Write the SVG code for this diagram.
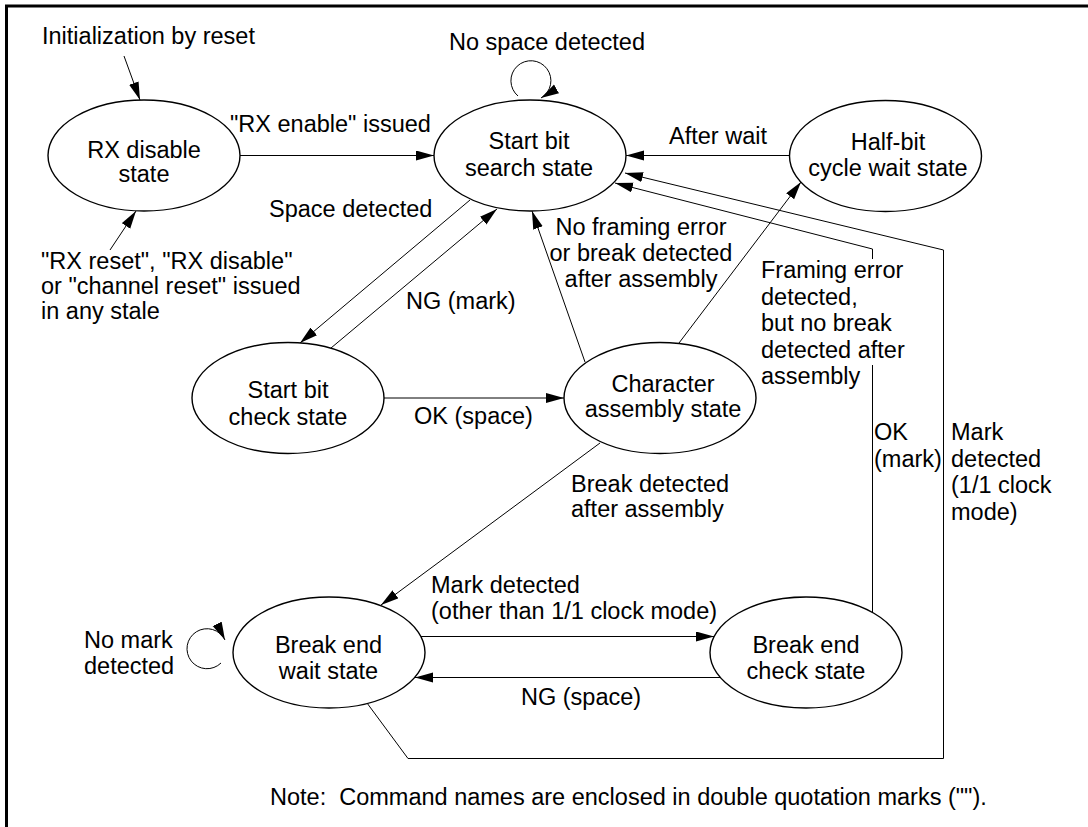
<svg xmlns="http://www.w3.org/2000/svg" width="1088" height="827" viewBox="0 0 1088 827">
<style>
text{font-family:"Liberation Sans",Arial,sans-serif;font-size:23.5px;fill:#000;white-space:pre}
.st{fill:#fff;stroke:#000;stroke-width:1.4}
.c{fill:none;stroke:#000;stroke-width:1}
.m{text-anchor:middle}
</style>
<defs>
<marker id="ah" markerUnits="userSpaceOnUse" markerWidth="19" markerHeight="11" refX="18" refY="5" orient="auto">
<path d="M0,0 L18,5 L0,10 z" fill="#000"/>
</marker>
</defs>
<rect width="1088" height="827" fill="#fff"/>
<path d="M6.5,827 V6 H1088" fill="none" stroke="#000" stroke-width="3"/>

<g id="connectors">
<path class="c" d="M124,56 L140,100" marker-end="url(#ah)"/>
<path class="c" d="M110,250 L136,211" marker-end="url(#ah)"/>
<path class="c" d="M240,155.5 L434,155.5" marker-end="url(#ah)"/>
<path class="c" d="M789,155.5 L626,155.5" marker-end="url(#ah)"/>
<path class="c" d="M518,96 A20,20 0 1,1 541,98" marker-end="url(#ah)"/>
<path class="c" d="M470,200 L300,343" marker-end="url(#ah)"/>
<path class="c" d="M331,348 L497,209" marker-end="url(#ah)"/>
<path class="c" d="M384,398 L564,398" marker-end="url(#ah)"/>
<path class="c" d="M585,362 L532,211" marker-end="url(#ah)"/>
<path class="c" d="M679,343 L801,182" marker-end="url(#ah)"/>
<path class="c" d="M872.5,612 L872.5,365"/>
<path class="c" d="M872.5,259 L872.5,249 L615,183" marker-end="url(#ah)"/>
<path class="c" d="M367,703 L408,758.5 L943.5,758.5 L943.5,250 L625,173" marker-end="url(#ah)"/>
<path class="c" d="M600,443 L381,605" marker-end="url(#ah)"/>
<path class="c" d="M421,636.5 L714,636.5" marker-end="url(#ah)"/>
<path class="c" d="M720,677.5 L415,677.5" marker-end="url(#ah)"/>
<path class="c" d="M221,663 A20,20 0 1,1 225,640" marker-end="url(#ah)"/>
</g>

<g id="rx-disable">
<ellipse class="st" cx="144" cy="155.5" rx="96" ry="55.5"/>
<text class="m" x="144" y="158">RX disable</text>
<text class="m" x="144" y="182">state</text>
</g>
<g id="start-bit-search">
<ellipse class="st" cx="530" cy="155.5" rx="96" ry="55.5"/>
<text class="m" x="529" y="149">Start bit</text>
<text class="m" x="529" y="176">search state</text>
</g>
<g id="half-bit-wait">
<ellipse class="st" cx="885.5" cy="156" rx="96" ry="55.5"/>
<text class="m" x="888" y="150">Half-bit</text>
<text class="m" x="888" y="176">cycle wait state</text>
</g>
<g id="start-bit-check">
<ellipse class="st" cx="288" cy="398" rx="96" ry="55.5"/>
<text class="m" x="288" y="398">Start bit</text>
<text class="m" x="288" y="425">check state</text>
</g>
<g id="character-assembly">
<ellipse class="st" cx="660" cy="398" rx="96" ry="55.5"/>
<text class="m" x="663" y="392">Character</text>
<text class="m" x="663" y="417">assembly state</text>
</g>
<g id="break-end-wait">
<ellipse class="st" cx="329" cy="652.5" rx="96" ry="55.5"/>
<text class="m" x="328.5" y="653">Break end</text>
<text class="m" x="328.5" y="679">wait state</text>
</g>
<g id="break-end-check">
<ellipse class="st" cx="806" cy="652.5" rx="96" ry="55.5"/>
<text class="m" x="806" y="653">Break end</text>
<text class="m" x="806" y="679">check state</text>
</g>

<g id="labels">
<text x="42" y="44">Initialization by reset</text>
<text x="41" y="269">"RX reset", "RX disable"</text>
<text x="41" y="294">or "channel reset" issued</text>
<text x="41" y="319">in any stale</text>
<text x="230" y="132">"RX enable" issued</text>
<text x="449" y="50">No space detected</text>
<text x="669" y="144">After wait</text>
<text x="269" y="217">Space detected</text>
<text x="406" y="309">NG (mark)</text>
<text x="414" y="424">OK (space)</text>
<text class="m" x="641" y="235">No framing error</text>
<text class="m" x="641" y="261">or break detected</text>
<text class="m" x="641" y="287">after assembly</text>
<text x="761" y="278">Framing error</text>
<text x="761" y="304.5">detected,</text>
<text x="761" y="331">but no break</text>
<text x="761" y="357.5">detected after</text>
<text x="761" y="384">assembly</text>
<text x="874" y="440">OK</text>
<text x="874" y="467">(mark)</text>
<text x="951" y="440">Mark</text>
<text x="951" y="467">detected</text>
<text x="951" y="493">(1/1 clock</text>
<text x="951" y="520">mode)</text>
<text x="571" y="492">Break detected</text>
<text x="571" y="517">after assembly</text>
<text x="431" y="593">Mark detected</text>
<text x="431" y="619">(other than 1/1 clock mode)</text>
<text x="521" y="705">NG (space)</text>
<text x="84" y="648">No mark</text>
<text x="84" y="674">detected</text>
<text x="270" y="805">Note:  Command names are enclosed in double quotation marks ("").</text>
</g>
</svg>
